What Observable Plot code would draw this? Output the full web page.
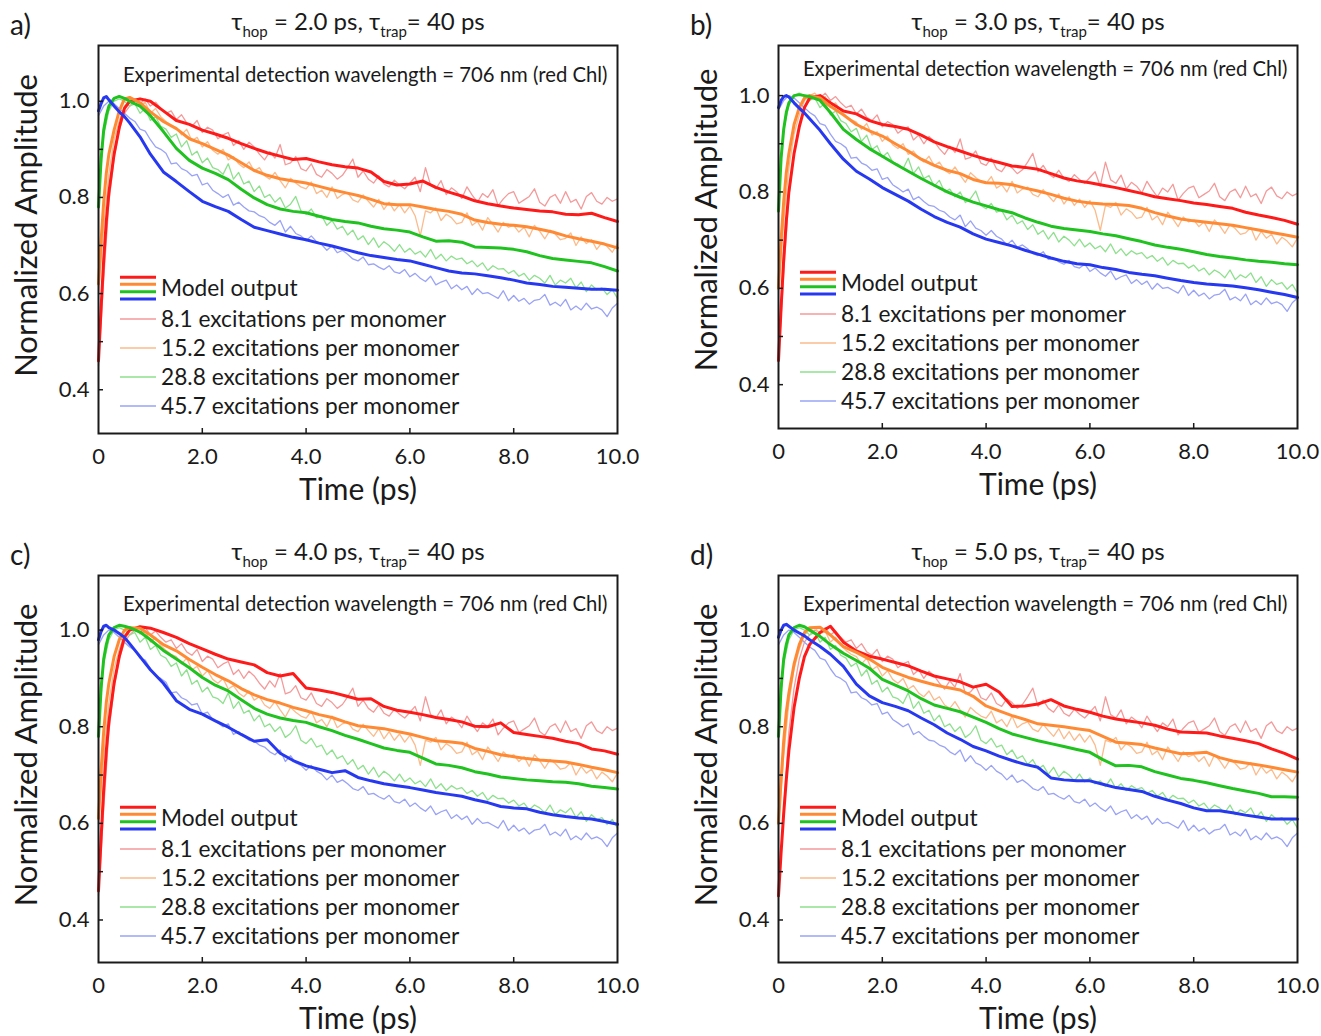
<!DOCTYPE html>
<html><head><meta charset="utf-8">
<script src="https://cdn.jsdelivr.net/npm/d3@7"></script>
<script src="https://cdn.jsdelivr.net/npm/@observablehq/plot@0.6"></script>
<style>
body{margin:0;background:#fff;}
#root{position:relative;width:1321px;height:1036px;font-family:Lato,"Open Sans",sans-serif;color:#1a1a1a;overflow:hidden;background:#fff}
.panel{position:absolute}
.title{position:absolute;font-size:24px;line-height:24px;white-space:nowrap;transform:translateX(-50%)}
.title sub{font-size:15px;vertical-align:-7px;line-height:0}
.letter{position:absolute;font-size:28px;line-height:28px}
</style></head><body><div id="root"></div>
<script>
// ---------- data ----------
const expTime = Array.from({length: 101}, (_, i) => i / 10); // 0 .. 10 ps, 0.1 ps sampling
const expLabels = ["8.1 excitations per monomer", "15.2 excitations per monomer", "28.8 excitations per monomer", "45.7 excitations per monomer"];
const exp81 = [
 0.45,0.63,0.79,0.88,0.94,0.975,0.99,1.0,0.995,1.005,
 0.99,0.998,0.985,0.975,0.98,0.962,0.972,0.955,0.948,0.96,
 0.935,0.946,0.94,0.922,0.93,0.935,0.908,0.918,0.9,0.915,
 0.905,0.89,0.878,0.895,0.882,0.91,0.868,0.872,0.885,0.86,
 0.855,0.87,0.848,0.842,0.858,0.85,0.838,0.846,0.862,0.88,
 0.842,0.855,0.838,0.83,0.845,0.828,0.822,0.836,0.826,0.818,
 0.83,0.842,0.812,0.862,0.825,0.818,0.835,0.806,0.82,0.812,
 0.798,0.822,0.805,0.79,0.808,0.8,0.816,0.783,0.797,0.808,
 0.812,0.788,0.795,0.802,0.818,0.79,0.782,0.8,0.806,0.788,
 0.812,0.79,0.796,0.776,0.802,0.81,0.792,0.786,0.8,0.792,
 0.797];
const exp152 = [
 0.6,0.74,0.85,0.92,0.96,0.99,1.0,1.005,0.992,0.998,
 0.975,0.985,0.968,0.958,0.95,0.945,0.93,0.942,0.918,0.925,
 0.905,0.916,0.898,0.89,0.9,0.878,0.885,0.87,0.862,0.874,
 0.855,0.862,0.845,0.838,0.852,0.835,0.82,0.84,0.83,0.822,
 0.818,0.832,0.808,0.815,0.8,0.822,0.798,0.806,0.81,0.795,
 0.79,0.805,0.792,0.78,0.796,0.775,0.79,0.772,0.785,0.768,
 0.782,0.762,0.72,0.772,0.768,0.778,0.752,0.765,0.758,0.745,
 0.748,0.768,0.742,0.75,0.732,0.758,0.744,0.728,0.748,0.738,
 0.742,0.728,0.738,0.718,0.742,0.73,0.714,0.732,0.724,0.712,
 0.715,0.726,0.7,0.718,0.704,0.712,0.692,0.706,0.698,0.686,
 0.704];
const exp288 = [
 0.8,0.93,0.98,1.0,1.005,1.0,0.99,0.995,0.975,0.985,
 0.96,0.968,0.948,0.942,0.925,0.932,0.905,0.918,0.888,0.896,
 0.872,0.882,0.862,0.858,0.848,0.87,0.838,0.852,0.828,0.834,
 0.812,0.824,0.8,0.806,0.79,0.8,0.778,0.786,0.802,0.772,
 0.765,0.776,0.758,0.762,0.742,0.752,0.734,0.74,0.722,0.732,
 0.712,0.72,0.702,0.716,0.696,0.708,0.7,0.688,0.702,0.686,
 0.694,0.682,0.688,0.676,0.692,0.672,0.682,0.668,0.678,0.671,
 0.674,0.662,0.668,0.656,0.664,0.648,0.658,0.651,0.652,0.642,
 0.648,0.636,0.642,0.628,0.638,0.632,0.622,0.638,0.618,0.628,
 0.622,0.632,0.612,0.624,0.604,0.618,0.608,0.612,0.598,0.608,
 0.59];
const exp457 = [
 0.97,0.99,1.0,0.995,0.985,0.975,0.965,0.958,0.942,0.938,
 0.92,0.905,0.9,0.892,0.87,0.872,0.86,0.855,0.845,0.848,
 0.826,0.83,0.815,0.808,0.8,0.806,0.784,0.79,0.78,0.772,
 0.77,0.762,0.758,0.748,0.742,0.752,0.728,0.74,0.725,0.72,
 0.71,0.72,0.708,0.702,0.69,0.7,0.685,0.69,0.682,0.672,
 0.668,0.676,0.66,0.662,0.655,0.65,0.658,0.645,0.642,0.65,
 0.635,0.642,0.632,0.625,0.636,0.618,0.624,0.628,0.61,0.618,
 0.608,0.615,0.598,0.61,0.6,0.602,0.596,0.59,0.606,0.585,
 0.596,0.584,0.59,0.578,0.586,0.588,0.598,0.576,0.582,0.574,
 0.588,0.566,0.574,0.566,0.58,0.568,0.572,0.566,0.552,0.57,
 0.58];

const modelTime = [0,0.05,0.1,0.15,0.2,0.3,0.4,0.5,0.6,0.8,1.0,
 1.25,1.5,1.75,2.0,2.25,2.5,2.75,3.0,3.25,3.5,3.75,4.0,
 4.25,4.5,4.75,5.0,5.25,5.5,5.75,6.0,6.25,6.5,6.75,7.0,
 7.25,7.5,7.75,8.0,8.25,8.5,8.75,9.0,9.25,9.5,9.75,10.0];

// panel a: tau_hop = 2.0 ps
const aRed = [0.46,0.57,0.67,0.75,0.81,0.89,0.945,0.985,1.0,1.005,1.0,
 0.98,0.96,0.952,0.94,0.932,0.923,0.912,0.902,0.893,0.886,0.879,0.881,
 0.874,0.868,0.864,0.861,0.853,0.833,0.826,0.828,0.834,0.821,0.811,0.803,
 0.793,0.787,0.782,0.778,0.775,0.772,0.770,0.765,0.764,0.767,0.758,0.750];
const aOrange = [0.62,0.71,0.79,0.85,0.89,0.94,0.98,1.005,1.008,0.997,0.978,
 0.958,0.943,0.922,0.912,0.9,0.888,0.872,0.856,0.846,0.839,0.834,0.83,
 0.823,0.816,0.81,0.804,0.796,0.787,0.785,0.785,0.78,0.775,0.771,0.765,
 0.753,0.748,0.744,0.742,0.739,0.734,0.728,0.72,0.714,0.709,0.703,0.695];
const aGreen = [0.78,0.88,0.94,0.97,0.99,1.006,1.01,1.006,1.0,0.99,0.97,
 0.937,0.902,0.877,0.861,0.85,0.837,0.817,0.799,0.785,0.776,0.771,0.768,
 0.761,0.754,0.75,0.747,0.74,0.735,0.732,0.728,0.718,0.709,0.71,0.707,
 0.697,0.696,0.695,0.692,0.687,0.679,0.673,0.67,0.667,0.664,0.656,0.647];
const aBlue = [0.98,0.995,1.007,1.01,1.003,0.99,0.978,0.968,0.955,0.926,0.89,
 0.853,0.833,0.812,0.792,0.781,0.771,0.754,0.738,0.731,0.724,0.717,0.712,
 0.705,0.699,0.692,0.685,0.679,0.675,0.671,0.668,0.661,0.654,0.647,0.643,
 0.641,0.637,0.633,0.628,0.622,0.619,0.615,0.613,0.611,0.609,0.609,0.607];
// panel b: tau_hop = 3.0 ps
const bRed = [0.45,0.56,0.66,0.74,0.8,0.88,0.935,0.975,0.995,1.0,0.985,
 0.968,0.962,0.948,0.94,0.936,0.93,0.918,0.904,0.894,0.885,0.876,0.868,
 0.861,0.854,0.851,0.847,0.838,0.829,0.823,0.819,0.814,0.809,0.803,0.797,
 0.79,0.786,0.782,0.777,0.774,0.77,0.766,0.758,0.752,0.747,0.741,0.733];
const bOrange = [0.6,0.7,0.78,0.84,0.88,0.94,0.975,0.995,1.0,0.995,0.978,
 0.96,0.94,0.927,0.916,0.9,0.885,0.868,0.855,0.845,0.838,0.826,0.819,
 0.818,0.815,0.808,0.802,0.795,0.787,0.781,0.777,0.775,0.774,0.772,0.766,
 0.757,0.75,0.744,0.74,0.737,0.734,0.731,0.726,0.721,0.716,0.711,0.706];
const bGreen = [0.76,0.87,0.93,0.965,0.985,1.0,1.002,1.0,0.998,0.99,0.965,
 0.93,0.909,0.89,0.874,0.858,0.843,0.828,0.814,0.8,0.789,0.779,0.771,
 0.763,0.757,0.746,0.737,0.729,0.724,0.721,0.718,0.713,0.709,0.703,0.697,
 0.69,0.685,0.681,0.676,0.67,0.666,0.663,0.659,0.656,0.654,0.651,0.649];
const bBlue = [0.975,0.99,0.998,1.0,0.997,0.985,0.974,0.964,0.952,0.928,0.9,
 0.868,0.843,0.827,0.809,0.795,0.781,0.764,0.749,0.737,0.727,0.713,0.702,
 0.695,0.688,0.679,0.671,0.663,0.656,0.651,0.649,0.643,0.639,0.633,0.629,
 0.626,0.621,0.616,0.612,0.609,0.607,0.605,0.601,0.597,0.592,0.587,0.581];
// panel c: tau_hop = 4.0 ps
const cRed = [0.46,0.57,0.67,0.75,0.81,0.89,0.945,0.985,1.0,1.007,1.004,
 0.995,0.985,0.972,0.961,0.95,0.94,0.934,0.928,0.912,0.905,0.91,0.88,
 0.876,0.871,0.864,0.857,0.858,0.842,0.834,0.83,0.825,0.819,0.815,0.81,
 0.801,0.8,0.808,0.788,0.784,0.78,0.776,0.77,0.765,0.754,0.75,0.743];
const cOrange = [0.61,0.71,0.79,0.85,0.89,0.945,0.98,1.0,1.005,1.004,0.99,
 0.97,0.957,0.939,0.923,0.908,0.895,0.879,0.866,0.856,0.849,0.84,0.833,
 0.825,0.819,0.81,0.802,0.799,0.796,0.79,0.785,0.778,0.771,0.769,0.766,
 0.755,0.749,0.742,0.738,0.734,0.731,0.729,0.727,0.722,0.716,0.711,0.705];
const cGreen = [0.78,0.88,0.94,0.97,0.99,1.005,1.01,1.008,1.005,0.996,0.98,
 0.958,0.94,0.922,0.902,0.886,0.874,0.856,0.838,0.826,0.818,0.813,0.809,
 0.8,0.792,0.782,0.774,0.765,0.756,0.751,0.747,0.735,0.723,0.72,0.715,
 0.707,0.702,0.696,0.693,0.69,0.688,0.686,0.685,0.682,0.677,0.674,0.671];
const cBlue = [0.98,0.997,1.008,1.01,1.005,1.0,0.993,0.985,0.972,0.945,0.918,
 0.89,0.854,0.836,0.826,0.812,0.799,0.784,0.77,0.773,0.745,0.73,0.719,
 0.712,0.705,0.709,0.695,0.688,0.682,0.678,0.674,0.669,0.664,0.66,0.656,
 0.649,0.643,0.635,0.632,0.63,0.623,0.618,0.614,0.611,0.609,0.604,0.598];
// panel d: tau_hop = 5.0 ps
const dRed = [0.45,0.54,0.62,0.69,0.75,0.84,0.9,0.945,0.97,0.995,1.008,
 0.975,0.957,0.946,0.94,0.933,0.926,0.915,0.905,0.899,0.893,0.882,0.888,
 0.872,0.842,0.843,0.847,0.856,0.843,0.836,0.83,0.822,0.816,0.812,0.808,
 0.803,0.795,0.789,0.788,0.787,0.781,0.776,0.771,0.765,0.754,0.745,0.733];
const dOrange = [0.6,0.69,0.77,0.83,0.87,0.93,0.97,0.995,1.005,1.006,0.99,
 0.966,0.954,0.94,0.923,0.912,0.902,0.894,0.887,0.881,0.876,0.863,0.843,
 0.833,0.823,0.815,0.806,0.803,0.8,0.796,0.792,0.78,0.768,0.766,0.763,
 0.756,0.75,0.744,0.745,0.747,0.736,0.729,0.725,0.721,0.716,0.711,0.706];
const dGreen = [0.78,0.88,0.94,0.97,0.99,1.005,1.01,1.007,1.0,0.987,0.97,
 0.952,0.937,0.921,0.898,0.886,0.874,0.858,0.845,0.838,0.831,0.82,0.809,
 0.796,0.785,0.778,0.771,0.765,0.759,0.753,0.747,0.732,0.719,0.72,0.717,
 0.707,0.7,0.693,0.689,0.684,0.678,0.672,0.667,0.662,0.655,0.655,0.654];
const dBlue = [0.985,1.0,1.01,1.012,1.008,1.0,0.994,0.988,0.98,0.966,0.95,
 0.925,0.888,0.864,0.85,0.842,0.833,0.818,0.804,0.787,0.774,0.759,0.75,
 0.739,0.73,0.722,0.716,0.694,0.69,0.688,0.688,0.681,0.674,0.67,0.666,
 0.656,0.648,0.641,0.632,0.626,0.626,0.622,0.617,0.613,0.609,0.609,0.609];

const hopValues = ["2.0", "3.0", "4.0", "5.0"];
const panelLetters = ["a)", "b)", "c)", "d)"];
const yTickLabels = [0.4, 0.6, 0.8, 1.0];
const yTickMarks = [0.4, 0.5, 0.6, 0.7, 0.8, 0.9, 1.0];
const xTickLabels = [0, 2, 4, 6, 8, 10];
const xTickMarks = [2, 4, 6, 8];
const noteText = "Experimental detection wavelength = 706 nm (red Chl)";

// ---------- styles / layout ----------
const modelColors = ["#ff1a1a", "#ff8a33", "#1fc21f", "#2638f0"];
const expColors = ["#f49a9a", "#fbbb8c", "#8ee08e", "#9aa3f6"];
const ink = "#1a1a1a";
const FONT = "Lato, 'Open Sans', sans-serif";

const layouts = [
  {model: [aRed, aOrange, aGreen, aBlue], left: 0, top: 0, width: 660, height: 520, mL: 98, mR: 43, mT: 45, mB: 87, yDomain: [0.309, 1.116], noteDy: 22, legendDy: 243, yTitleDy: -14, titleX: 358, titleY: 22, letterX: 10, letterY: 25},
  {model: [bRed, bOrange, bGreen, bBlue], left: 660, top: 0, width: 661, height: 520, mL: 118, mR: 24, mT: 45, mB: 92, yDomain: [0.309, 1.104], noteDy: 16, legendDy: 238, yTitleDy: -17, titleX: 1038, titleY: 22, letterX: 690, letterY: 25},
  {model: [cRed, cOrange, cGreen, cBlue], left: 0, top: 520, width: 660, height: 516, mL: 98, mR: 43, mT: 55, mB: 74, yDomain: [0.312, 1.113], noteDy: 21, legendDy: 243, yTitleDy: -14, titleX: 358, titleY: 552, letterX: 10, letterY: 555},
  {model: [dRed, dOrange, dGreen, dBlue], left: 660, top: 520, width: 661, height: 516, mL: 118, mR: 24, mT: 55, mB: 74, yDomain: [0.312, 1.113], noteDy: 21, legendDy: 243, yTitleDy: -14, titleX: 1038, titleY: 552, letterX: 690, letterY: 555}
];
const expSeries = [exp81, exp152, exp288, exp457];

const root = document.getElementById("root");

layouts.forEach((p, k) => {
  const marks = [];
  expSeries.forEach((vals, i) => {
    marks.push(Plot.line(vals, {x: (d, j) => expTime[j], y: d => d, stroke: expColors[i], strokeWidth: 1.3, strokeLinejoin: "round"}));
  });
  p.model.forEach((vals, i) => {
    marks.push(Plot.line(vals, {x: (d, j) => modelTime[j], y: d => d, stroke: modelColors[i], strokeWidth: 3, strokeLinejoin: "round"}));
  });
  marks.push(
    Plot.frame({stroke: ink, strokeWidth: 2}),
    Plot.axisY({ticks: yTickMarks, tickSize: 5, dx: 5, fill: "none", stroke: ink, strokeWidth: 1.5, label: null}),
    Plot.axisX({ticks: xTickMarks, tickSize: 5, dy: -5, fill: "none", stroke: ink, strokeWidth: 1.5, label: null}),
    Plot.axisY({ticks: yTickLabels, tickSize: 0, tickPadding: 9, tickFormat: d => d.toFixed(1), label: null, fontSize: 22, fill: ink}),
    Plot.axisX({ticks: xTickLabels, tickSize: 0, tickPadding: 15, tickFormat: d => d === 0 ? "0" : d.toFixed(1), label: null, fontSize: 22, fill: ink}),
    Plot.text([noteText], {frameAnchor: "top-right", textAnchor: "end", dx: -10, dy: p.noteDy, fontSize: 20.3, fill: ink}),
    Plot.text(["Time (ps)"], {frameAnchor: "bottom", textAnchor: "middle", dy: 66, fontSize: 30, fill: ink}),
    Plot.text(["Normalized Amplitude"], {frameAnchor: "left", textAnchor: "middle", rotate: -90, dx: -71, dy: p.yTitleDy, fontSize: 31, fill: ink})
  );
  const svg = Plot.plot({
    width: p.width, height: p.height,
    marginLeft: p.mL, marginRight: p.mR, marginTop: p.mT, marginBottom: p.mB,
    x: {domain: [0, 10]},
    y: {domain: p.yDomain},
    style: {fontFamily: FONT, fontSize: "22px", color: ink, background: "transparent", overflow: "visible"},
    marks
  });
  svg.classList.add("panel");
  svg.style.left = p.left + "px";
  svg.style.top = p.top + "px";

  // legend inside the frame
  const g = d3.select(svg).append("g").attr("font-family", FONT).attr("fill", ink).attr("text-anchor", "start");
  const lx0 = p.mL + 22, lx1 = p.mL + 58, tx = p.mL + 63;
  const y0 = p.mT + p.legendDy;
  [-10.7, -3.7, 3.7, 11].forEach((off, i) => {
    g.append("line").attr("x1", lx0).attr("x2", lx1).attr("y1", y0 + off).attr("y2", y0 + off)
      .attr("stroke", modelColors[i]).attr("stroke-width", 3);
  });
  g.append("text").attr("x", tx).attr("y", y0).attr("dy", "0.35em").attr("font-size", 22.7).text("Model output");
  [31, 60, 89, 118].forEach((off, i) => {
    g.append("line").attr("x1", lx0).attr("x2", lx1).attr("y1", y0 + off).attr("y2", y0 + off)
      .attr("stroke", expColors[i]).attr("stroke-width", 1.5);
    g.append("text").attr("x", tx).attr("y", y0 + off).attr("dy", "0.35em").attr("font-size", 22.7).text(expLabels[i]);
  });
  root.appendChild(svg);

  const t = document.createElement("div");
  t.className = "title";
  t.style.left = p.titleX + "px";
  t.style.top = (p.titleY - 13) + "px";
  t.innerHTML = "τ<sub>hop</sub> = " + hopValues[k] + " ps, τ<sub>trap</sub>= 40 ps";
  root.appendChild(t);

  const l = document.createElement("div");
  l.className = "letter";
  l.style.left = p.letterX + "px";
  l.style.top = (p.letterY - 15) + "px";
  l.textContent = panelLetters[k];
  root.appendChild(l);
});
</script></body></html>
